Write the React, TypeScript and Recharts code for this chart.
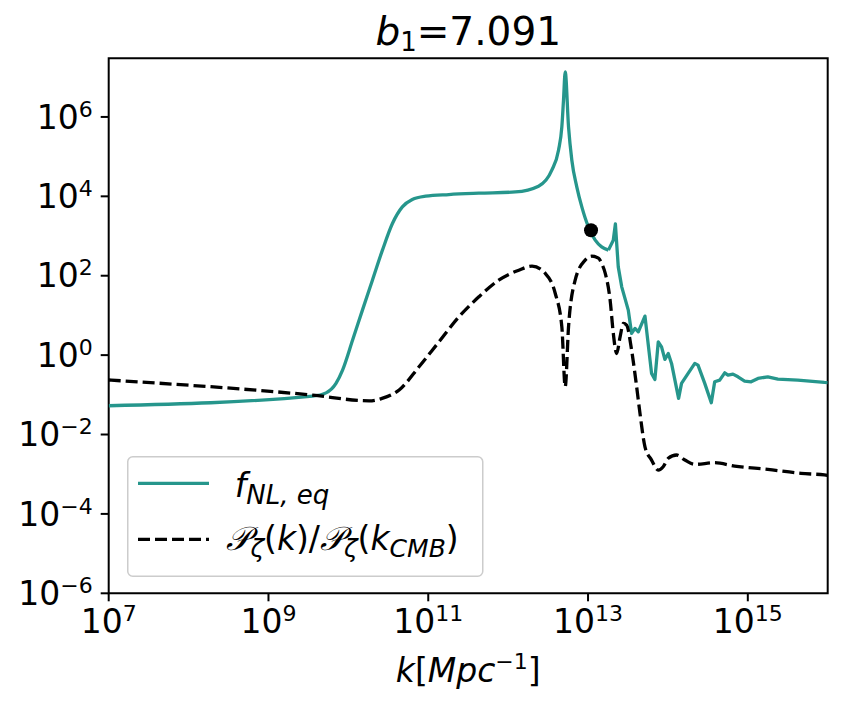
import React from 'react';
import { ComposedChart, Line, XAxis, YAxis, ReferenceDot, ReferenceArea, Legend } from 'recharts';

const FONT = '"DejaVu Sans", sans-serif';
const TEAL = '#26968c';

// f_NL,eq curve
const kFnl = [1e7, 3.57e9, 5.25e9, 7.00e9, 8.46e9, 1.13e10, 1.50e10, 2.00e10, 2.67e10, 3.56e10, 4.74e10, 6.31e10, 9.27e10, 1.81e11, 4.30e11, 1.23e12, 2.40e12, 3.52e12, 4.27e12, 4.70e12, 4.93e12, 5.18e12, 5.70e12, 6.27e12, 7.23e12, 8.36e12, 1.01e13, 1.23e13, 1.48e13, 1.80e13, 2.07e13, 2.20e13, 2.39e13, 2.64e13, 3.19e13, 3.51e13, 3.87e13, 4.26e13, 5.16e13, 6.24e13, 6.87e13, 7.57e13, 8.32e13, 9.16e13, 1.01e14, 1.11e14, 1.36e14, 1.48e14, 1.79e14, 2.17e14, 2.38e14, 2.89e14, 3.49e14, 3.85e14, 4.45e14, 5.14e14, 5.65e14, 6.52e14, 7.53e14, 9.12e14, 1.10e15, 1.34e15, 1.78e15, 2.38e15, 4.22e15, 9.08e15, 1e16];
const fnlEq = [0.053, 0.0929, 0.112, 0.194, 0.419, 2.39, 13.6, 77.3, 441, 2070, 5420, 8320, 10070, 11100, 12000, 12900, 18000, 45500, 145000, 560000, 2.63e6, 1.36e7, 560000, 81100, 17300, 5420, 1700, 785, 533, 441, 785, 2020, 167, 52.5, 13.6, 3.52, 4.70, 3.86, 9.59, 0.346, 0.244, 2.16, 1.62, 0.780, 1.10, 0.618, 0.0813, 0.194, 0.346, 0.618, 0.560, 0.194, 0.0630, 0.213, 0.235, 0.358, 0.313, 0.333, 0.284, 0.221, 0.213, 0.259, 0.284, 0.249, 0.235, 0.206, 0.204];
// where the smooth part of f_NL,eq ends and the jagged part begins
const fnlSplitK = 1.80e13;

// P_zeta(k)/P_zeta(k_CMB) curve
const kPz = [1e7, 3.57e9, 1.82e10, 2.64e10, 4.32e10, 7.66e10, 1.36e11, 2.42e11, 4.30e11, 7.62e11, 1.36e12, 1.99e12, 2.92e12, 3.89e12, 4.70e12, 5.18e12, 5.70e12, 6.90e12, 9.20e12, 1.11e13, 1.35e13, 1.48e13, 1.64e13, 1.89e13, 2.07e13, 2.28e13, 2.52e13, 2.77e13, 3.04e13, 3.51e13, 4.06e13, 4.47e13, 5.16e13, 6.24e13, 7.57e13, 8.73e13, 1.01e14, 1.28e14, 1.63e14, 2.17e14, 3.85e14, 6.85e14, 1.78e15, 4.63e15, 9.08e15, 1e16];
const pzRatio = [0.236, 0.0984, 0.0706, 0.0813, 0.132, 0.507, 2.16, 9.20, 29.4, 77.3, 138, 174, 114, 35.7, 5.15, 0.159, 5.15, 77.3, 247, 310, 277, 204, 116, 24.3, 3.58, 1.10, 2.89, 6.28, 5.69, 1.34, 0.159, 0.0340, 0.00491, 0.00227, 0.00127, 0.00154, 0.00251, 0.00305, 0.00227, 0.00177, 0.00195, 0.00160, 0.00132, 0.00105, 0.000957, 0.000933];

// marked point
const dotK = 1.09e13;
const dotVal = 1400;

// axes
const xDomain = [1e7, 1e16];
const yDomain = [1e-6, 3e7];
const xTicks = [1e7, 1e9, 1e11, 1e13, 1e15];
const xTickExps = ['7', '9', '11', '13', '15'];
const yTicks = [1e-6, 1e-4, 1e-2, 1e0, 1e2, 1e4, 1e6];
const yTickExps = ['\u22126', '\u22124', '\u22122', '0', '2', '4', '6'];

const fnlData = kFnl.map((k, i) => ({ k, v: fnlEq[i] }));
const splitIdx = kFnl.indexOf(fnlSplitK);
const fnlSmooth = fnlData.slice(0, splitIdx + 1);
const fnlJagged = fnlData.slice(splitIdx);
const pzData = kPz.map((k, i) => ({ k, v: pzRatio[i] }));

const YTick = (props: any) => {
  const { x, y, payload, index } = props;
  const i = yTicks.indexOf(payload.value);
  const e = yTickExps[i >= 0 ? i : index];
  return (
    <text x={x} y={y + 11.7} textAnchor="end" fontFamily={FONT} fontSize={33} fill="#000">
      10<tspan fontSize={22} dy={-12}>{e}</tspan>
    </text>
  );
};

const XTick = (props: any) => {
  const { x, y, payload, index } = props;
  const i = xTicks.indexOf(payload.value);
  const e = xTickExps[i >= 0 ? i : index];
  return (
    <text x={x} y={y + 32} textAnchor="middle" fontFamily={FONT} fontSize={33} fill="#000">
      10<tspan fontSize={22} dy={-12}>{e}</tspan>
    </text>
  );
};

const LegendBox = () => (
  <svg width={358} height={122} style={{ display: 'block', overflow: 'visible' }}>
    <rect x={0.75} y={0.75} width={355} height={119.5} rx={5} ry={5} fill="#ffffff" fillOpacity={0.8} stroke="#cccccc" strokeWidth={1.5} />
    <line x1={11} x2={82} y1={27.3} y2={27.3} stroke={TEAL} strokeWidth={3.3} />
    <text x={107.7} y={40.7} fontFamily={FONT} fontSize={33} fill="#000">
      <tspan fontStyle="italic">f</tspan>
      <tspan fontStyle="italic" fontSize={26} dy={7}>NL, eq</tspan>
    </text>
    <line x1={11} x2={82} y1={83.3} y2={83.3} stroke="#000" strokeWidth={3.3} strokeDasharray="12 5" />
    <text x={99.4} y={94} fontFamily={FONT} fontSize={33} fill="#000">
      <tspan fontStyle="italic">{'\u{1D4AB}'}</tspan>
      <tspan fontStyle="italic" fontSize={25} dy={7}>{'\u03B6'}</tspan>
      <tspan dy={-7}>(</tspan>
      <tspan fontStyle="italic">k</tspan>
      <tspan>)/</tspan>
      <tspan fontStyle="italic">{'\u{1D4AB}'}</tspan>
      <tspan fontStyle="italic" fontSize={25} dy={7}>{'\u03B6'}</tspan>
      <tspan dy={-7}>(</tspan>
      <tspan fontStyle="italic">k</tspan>
      <tspan fontStyle="italic" fontSize={25} dy={7}>CMB</tspan>
      <tspan dy={-7}>)</tspan>
    </text>
  </svg>
);

export default function App() {
  return (
    <ComposedChart
      width={826}
      height={689}
      margin={{ top: 50.3, right: 6.3, bottom: 43.7, left: 0 }}
      style={{ fontFamily: FONT }}
    >
      <XAxis
        dataKey="k"
        type="number"
        scale="log"
        domain={xDomain}
        allowDataOverflow
        ticks={xTicks}
        interval={0}
        height={60}
        axisLine={false}
        tickLine={{ stroke: '#000', strokeWidth: 2 }}
        tickSize={8}
        tickMargin={0}
        tick={<XTick />}
      />
      <YAxis
        type="number"
        scale="log"
        domain={yDomain}
        allowDataOverflow
        ticks={yTicks}
        interval={0}
        width={100.7}
        axisLine={false}
        tickLine={{ stroke: '#000', strokeWidth: 2 }}
        tickSize={8}
        tickMargin={8}
        tick={<YTick />}
      />
      <Line data={fnlSmooth} dataKey="v" type="monotoneX" stroke={TEAL} strokeWidth={3.3} strokeLinejoin="round" dot={false} isAnimationActive={false} name="fNL,eq" />
      <Line data={fnlJagged} dataKey="v" type="linear" stroke={TEAL} strokeWidth={3.3} strokeLinejoin="round" dot={false} isAnimationActive={false} name="fNL,eq (tail)" legendType="none" />
      <Line data={pzData} dataKey="v" type="monotoneX" stroke="#000" strokeWidth={3.3} strokeDasharray="12 5" dot={false} isAnimationActive={false} name="Pz" />
      <ReferenceDot x={dotK} y={dotVal} r={7} fill="#000" stroke="none" />
      <ReferenceArea x1={xDomain[0]} x2={xDomain[1]} y1={yDomain[0]} y2={yDomain[1]} fill="none" stroke="#000" strokeWidth={2} />
      <Legend
        layout="horizontal"
        verticalAlign="middle"
        align="center"
        wrapperStyle={{ left: 119.3, top: 448, width: 358, height: 122 }}
        content={() => <LegendBox />}
      />
      <text x={460.2} y={37} textAnchor="middle" fontFamily={FONT} fontSize={39} fill="#000">
        <tspan fontStyle="italic">b</tspan>
        <tspan fontSize={26} dy={6}>1</tspan>
        <tspan dy={-6}>=7.091</tspan>
      </text>
      <text x={460.2} y={673.7} textAnchor="middle" fontFamily={FONT} fontSize={33} fill="#000">
        <tspan fontStyle="italic">k</tspan>
        <tspan>[</tspan>
        <tspan fontStyle="italic">Mpc</tspan>
        <tspan fontSize={22} dy={-13}>{'\u22121'}</tspan>
        <tspan dy={13}>]</tspan>
      </text>
    </ComposedChart>
  );
}
